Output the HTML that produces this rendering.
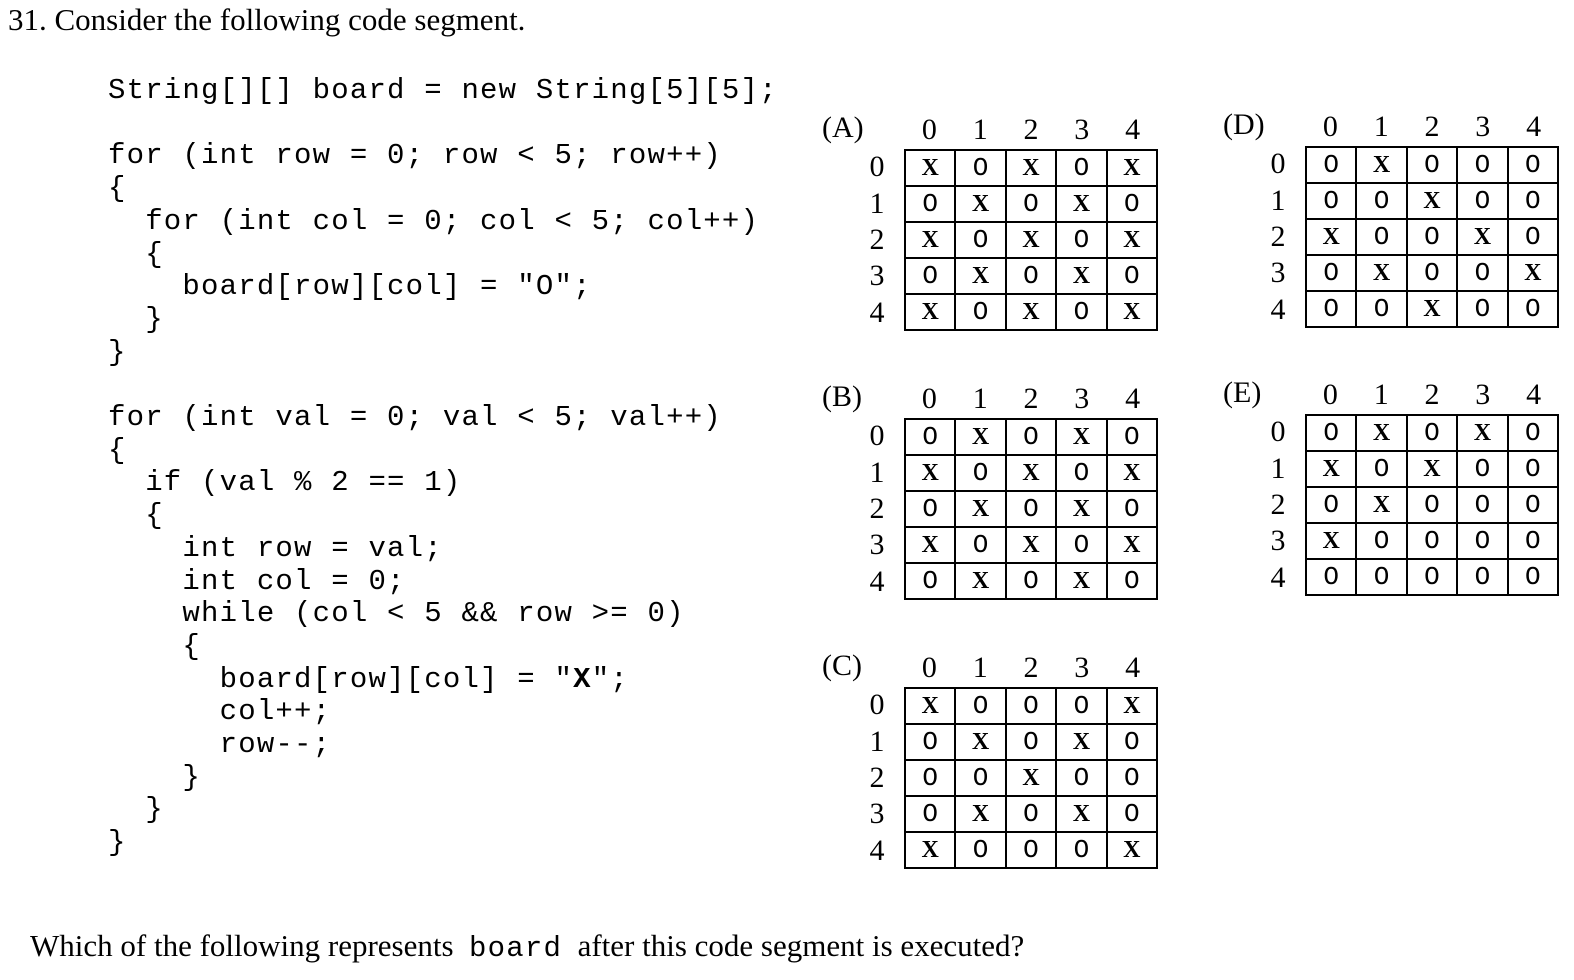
<!DOCTYPE html>
<html><head><meta charset="utf-8"><style>
body{margin:0;width:1574px;height:980px;background:#fff;position:relative;overflow:hidden;font-family:"Liberation Serif",serif;color:#000}
.t{position:absolute;font-size:31px;white-space:nowrap}
.c{position:absolute;font-family:"Liberation Mono",monospace;font-size:29px;letter-spacing:1.2px;white-space:pre;line-height:32.7px}
.g{position:absolute;width:254px;height:182px}
.g table{border-collapse:collapse;width:254px;height:182px;table-layout:fixed}
.g td{border:2px solid #000;text-align:center;font-family:"Liberation Mono",monospace;font-size:26px;padding:0;line-height:20px}
.g td.x{font-weight:bold;font-family:"Liberation Serif",serif;font-size:24px}
.h{position:absolute;top:-36px;left:0;width:254px;display:flex;font-size:30px}
.h span{flex:1;text-align:center}
.r{position:absolute;left:-42px;top:0;width:30px;height:182px;display:flex;flex-direction:column;font-size:30px}
.r span{flex:1;display:flex;align-items:center;justify-content:center}
.l{position:absolute;font-size:30px;left:-82px;top:-38px}
</style></head><body>
<div class="t" style="left:8px;top:2px">31. Consider the following code segment.</div>
<div class="c" style="left:108px;top:75px">String[][] board = new String[5][5];

for (int row = 0; row &lt; 5; row++)
{
  for (int col = 0; col &lt; 5; col++)
  {
    board[row][col] = "O";
  }
}

for (int val = 0; val &lt; 5; val++)
{
  if (val % 2 == 1)
  {
    int row = val;
    int col = 0;
    while (col &lt; 5 &amp;&amp; row &gt;= 0)
    {
      board[row][col] = "<b>X</b>";
      col++;
      row--;
    }
  }
}</div>

<div class="g" style="left:904px;top:149px"><div class="l">(A)</div><div class="h"><span>0</span><span>1</span><span>2</span><span>3</span><span>4</span></div><div class="r"><span>0</span><span>1</span><span>2</span><span>3</span><span>4</span></div><table>
<tr><td class="x">X</td><td>O</td><td class="x">X</td><td>O</td><td class="x">X</td></tr>
<tr><td>O</td><td class="x">X</td><td>O</td><td class="x">X</td><td>O</td></tr>
<tr><td class="x">X</td><td>O</td><td class="x">X</td><td>O</td><td class="x">X</td></tr>
<tr><td>O</td><td class="x">X</td><td>O</td><td class="x">X</td><td>O</td></tr>
<tr><td class="x">X</td><td>O</td><td class="x">X</td><td>O</td><td class="x">X</td></tr></table></div>

<div class="g" style="left:904px;top:418px"><div class="l">(B)</div><div class="h"><span>0</span><span>1</span><span>2</span><span>3</span><span>4</span></div><div class="r"><span>0</span><span>1</span><span>2</span><span>3</span><span>4</span></div><table>
<tr><td>O</td><td class="x">X</td><td>O</td><td class="x">X</td><td>O</td></tr>
<tr><td class="x">X</td><td>O</td><td class="x">X</td><td>O</td><td class="x">X</td></tr>
<tr><td>O</td><td class="x">X</td><td>O</td><td class="x">X</td><td>O</td></tr>
<tr><td class="x">X</td><td>O</td><td class="x">X</td><td>O</td><td class="x">X</td></tr>
<tr><td>O</td><td class="x">X</td><td>O</td><td class="x">X</td><td>O</td></tr></table></div>

<div class="g" style="left:904px;top:687px"><div class="l">(C)</div><div class="h"><span>0</span><span>1</span><span>2</span><span>3</span><span>4</span></div><div class="r"><span>0</span><span>1</span><span>2</span><span>3</span><span>4</span></div><table>
<tr><td class="x">X</td><td>O</td><td>O</td><td>O</td><td class="x">X</td></tr>
<tr><td>O</td><td class="x">X</td><td>O</td><td class="x">X</td><td>O</td></tr>
<tr><td>O</td><td>O</td><td class="x">X</td><td>O</td><td>O</td></tr>
<tr><td>O</td><td class="x">X</td><td>O</td><td class="x">X</td><td>O</td></tr>
<tr><td class="x">X</td><td>O</td><td>O</td><td>O</td><td class="x">X</td></tr></table></div>

<div class="g" style="left:1305px;top:146px"><div class="l">(D)</div><div class="h"><span>0</span><span>1</span><span>2</span><span>3</span><span>4</span></div><div class="r"><span>0</span><span>1</span><span>2</span><span>3</span><span>4</span></div><table>
<tr><td>O</td><td class="x">X</td><td>O</td><td>O</td><td>O</td></tr>
<tr><td>O</td><td>O</td><td class="x">X</td><td>O</td><td>O</td></tr>
<tr><td class="x">X</td><td>O</td><td>O</td><td class="x">X</td><td>O</td></tr>
<tr><td>O</td><td class="x">X</td><td>O</td><td>O</td><td class="x">X</td></tr>
<tr><td>O</td><td>O</td><td class="x">X</td><td>O</td><td>O</td></tr></table></div>

<div class="g" style="left:1305px;top:414px"><div class="l">(E)</div><div class="h"><span>0</span><span>1</span><span>2</span><span>3</span><span>4</span></div><div class="r"><span>0</span><span>1</span><span>2</span><span>3</span><span>4</span></div><table>
<tr><td>O</td><td class="x">X</td><td>O</td><td class="x">X</td><td>O</td></tr>
<tr><td class="x">X</td><td>O</td><td class="x">X</td><td>O</td><td>O</td></tr>
<tr><td>O</td><td class="x">X</td><td>O</td><td>O</td><td>O</td></tr>
<tr><td class="x">X</td><td>O</td><td>O</td><td>O</td><td>O</td></tr>
<tr><td>O</td><td>O</td><td>O</td><td>O</td><td>O</td></tr></table></div>

<div class="t" style="left:30px;top:928px">Which of the following represents&nbsp; <span style="font-family:'Liberation Mono',monospace;font-size:29px;letter-spacing:1.2px">board</span>&nbsp; after this code segment is executed?</div>
</body></html>
